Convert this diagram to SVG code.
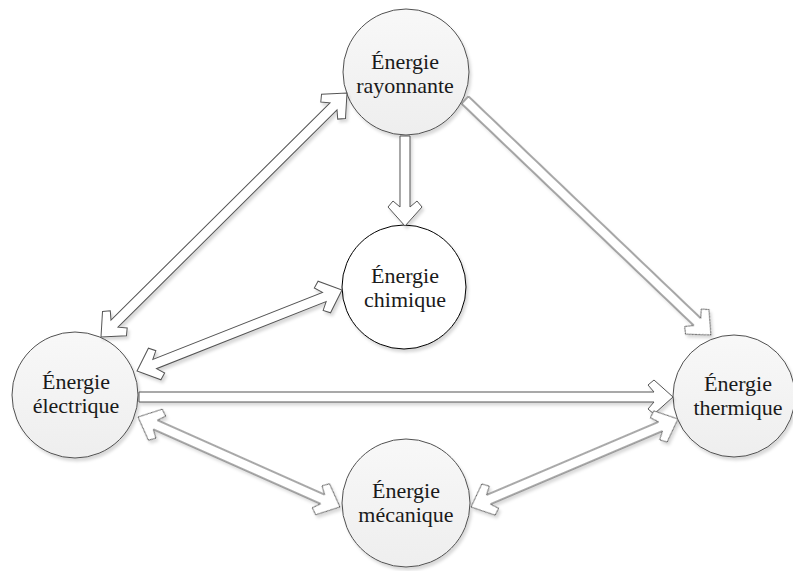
<svg xmlns="http://www.w3.org/2000/svg" width="793" height="571" viewBox="0 0 793 571">
  <defs>
    <linearGradient id="nodeFill" x1="0" y1="0" x2="0" y2="1">
      <stop offset="0" stop-color="#f8f8f8"/>
      <stop offset="1" stop-color="#eeeeee"/>
    </linearGradient>
    <filter id="shadow" x="-10%" y="-10%" width="130%" height="130%">
      <feDropShadow dx="2" dy="3" stdDeviation="1.5" flood-color="#000" flood-opacity="0.15"/>
    </filter>
    <style>
      .node { fill: url(#nodeFill); stroke: #505050; stroke-width: 1; filter: url(#shadow); }
      .node.plain { fill: #ffffff; stroke: #000000; }
      .label { font-family: "Liberation Serif", "Times New Roman", serif; font-size: 22px; fill: #1a1a1a; text-anchor: middle; }
      .arrow { fill: #ffffff; stroke: #555555; stroke-width: 1; stroke-linejoin: miter; }
    </style>
  </defs>

  <rect width="793" height="571" fill="#ffffff"/>

  <!-- energy forms -->
  <g id="rayonnante">
    <circle class="node" cx="406" cy="72" r="63"/>
    <text class="label" x="405" y="69">Énergie</text>
    <text class="label" x="405" y="93">rayonnante</text>
  </g>
  <g id="chimique">
    <circle class="node plain" cx="404" cy="287" r="62"/>
    <text class="label" x="405" y="283">Énergie</text>
    <text class="label" x="405" y="307">chimique</text>
  </g>
  <g id="electrique">
    <circle class="node" cx="75" cy="395" r="63"/>
    <text class="label" x="76" y="389">Énergie</text>
    <text class="label" x="76" y="413">électrique</text>
  </g>
  <g id="thermique">
    <circle class="node" cx="734" cy="396" r="61"/>
    <text class="label" x="738" y="391">Énergie</text>
    <text class="label" x="738" y="415">thermique</text>
  </g>
  <g id="mecanique">
    <circle class="node" cx="406" cy="503" r="64"/>
    <text class="label" x="406" y="498">Énergie</text>
    <text class="label" x="406" y="522">mécanique</text>
  </g>

  <!-- conversions between forms (hollow block arrows) -->
  <g id="connectors" filter="url(#shadow)">
    <!-- électrique <-> rayonnante -->
    <path class="arrow" transform="translate(101,337) rotate(-44.77)"
          d="M0,0 L19,-17 L25,-12 L19,-5 L327.5,-5 L321.5,-12 L327.5,-17 L346.5,0 L327.5,17 L321.5,12 L327.5,5 L19,5 L25,12 L19,17 Z"/>
    <!-- rayonnante -> chimique -->
    <path class="arrow" transform="translate(405,136) rotate(90)"
          d="M0,-5 L71,-5 L65,-12 L71,-17 L90,0 L71,17 L65,12 L71,5 L0,5 Z"/>
    <!-- électrique <-> chimique -->
    <path class="arrow" transform="translate(137,371) rotate(-21.56)"
          d="M0,0 L19,-17 L25,-12 L19,-5 L201.4,-5 L195.4,-12 L201.4,-17 L220.4,0 L201.4,17 L195.4,12 L201.4,5 L19,5 L25,12 L19,17 Z"/>
    <!-- rayonnante -> thermique -->
    <path class="arrow" transform="translate(465,100) rotate(43.69)"
          d="M0,-5 L321.2,-5 L315.2,-12 L321.2,-17 L340.2,0 L321.2,17 L315.2,12 L321.2,5 L0,5 Z"/>
    <!-- électrique -> thermique -->
    <path class="arrow" transform="translate(139,397)"
          d="M0,-5 L515,-5 L509,-12 L515,-17 L534,0 L515,17 L509,12 L515,5 L0,5 Z"/>
    <!-- électrique <-> mécanique -->
    <path class="arrow" transform="translate(138,417) rotate(24.01)"
          d="M0,0 L19,-17 L25,-12 L19,-5 L202.1,-5 L196.1,-12 L202.1,-17 L221.1,0 L202.1,17 L196.1,12 L202.1,5 L19,5 L25,12 L19,17 Z"/>
    <!-- mécanique <-> thermique -->
    <path class="arrow" transform="translate(471,507) rotate(-23.03)"
          d="M0,0 L19,-17 L25,-12 L19,-5 L205.9,-5 L199.9,-12 L205.9,-17 L224.9,0 L205.9,17 L199.9,12 L205.9,5 L19,5 L25,12 L19,17 Z"/>
  </g>
</svg>
